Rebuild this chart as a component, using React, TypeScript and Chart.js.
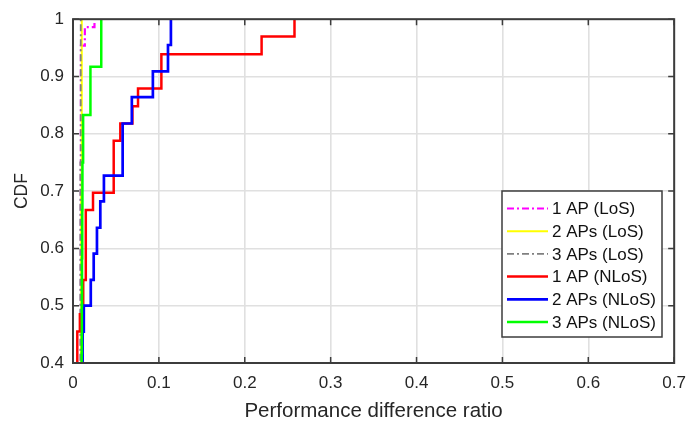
import React, { useEffect, useRef } from 'react';
import { Chart, registerables } from 'chart.js';

Chart.register(...registerables);

// ---------- data ----------
const xTickValues = [0, 0.1, 0.2, 0.3, 0.4, 0.5, 0.6, 0.7];
const xTickLabels = ['0', '0.1', '0.2', '0.3', '0.4', '0.5', '0.6', '0.7'];
const yTickValues = [0.4, 0.5, 0.6, 0.7, 0.8, 0.9, 1];
const yTickLabels = ['0.4', '0.5', '0.6', '0.7', '0.8', '0.9', '1'];

const seriesLabels = ['1 AP (LoS)', '2 APs (LoS)', '3 APs (LoS)', '1 AP (NLoS)', '2 APs (NLoS)', '3 APs (NLoS)'];

// step points (x where the CDF jumps, CDF level after the jump)
const ap1LosX = [0.007, 0.0092, 0.0138, 0.0250];
const ap1LosY = [0.38, 0.954, 0.986, 1.0];

const ap2LosX = [0.0085, 0.0095, 0.0102];
const ap2LosY = [0.38, 0.7, 1.0];

const ap3LosX = [0.007, 0.0085, 0.0090];
const ap3LosY = [0.38, 0.75, 1.0];

const ap1NlosX = [0.003, 0.005, 0.008, 0.0119, 0.0149, 0.0233, 0.0474, 0.0551, 0.0692, 0.0757, 0.1029, 0.2196, 0.2579];
const ap1NlosY = [0.364, 0.455, 0.485, 0.545, 0.667, 0.697, 0.788, 0.818, 0.848, 0.879, 0.939, 0.970, 1.0];

const ap2NlosX = [0.006, 0.0112, 0.0126, 0.0207, 0.0241, 0.0279, 0.0318, 0.036, 0.0578, 0.0685, 0.093, 0.1106, 0.114];
const ap2NlosY = [0.364, 0.4545, 0.5, 0.545, 0.591, 0.636, 0.682, 0.727, 0.818, 0.864, 0.909, 0.955, 1.0];

const ap3NlosX = [0.009, 0.0101, 0.0103, 0.0105, 0.0108, 0.011, 0.0118, 0.0203, 0.0329];
const ap3NlosY = [0.333, 0.417, 0.5, 0.583, 0.667, 0.75, 0.833, 0.917, 1.0];

const seriesColors = ['#ff00ff', '#ffff00', '#808080', '#ff0000', '#0000ff', '#00ff00'];

const FONT = "'Liberation Sans', Arial, Helvetica, sans-serif";

const toPts = (xs: number[], ys: number[]) => xs.map((x, i) => ({ x, y: ys[i] }));

const framePlugin = {
  id: 'frame',
  afterDatasetsDraw(chart: any) {
    const { ctx, chartArea } = chart;
    const { left, right, top, bottom } = chartArea;
    const xs = chart.scales.x;
    const ys = chart.scales.y;
    ctx.save();
    ctx.strokeStyle = '#3c3c3c';
    ctx.lineWidth = 1.5;
    const tl = 6;
    ctx.beginPath();
    xTickValues.forEach((v) => {
      const p = xs.getPixelForValue(v);
      ctx.moveTo(p, bottom);
      ctx.lineTo(p, bottom - tl);
      ctx.moveTo(p, top);
      ctx.lineTo(p, top + tl);
    });
    yTickValues.forEach((v) => {
      const p = ys.getPixelForValue(v);
      ctx.moveTo(left, p);
      ctx.lineTo(left + tl, p);
      ctx.moveTo(right, p);
      ctx.lineTo(right - tl, p);
    });
    ctx.stroke();
    ctx.lineWidth = 2;
    ctx.strokeRect(left, top, right - left, bottom - top);
    ctx.restore();
  },
};

const legendPlugin = {
  id: 'boxLegend',
  afterDraw(chart: any) {
    const { ctx } = chart;
    const bx = 502, by = 191, bw = 160, bh = 146;
    ctx.save();
    ctx.fillStyle = '#ffffff';
    ctx.fillRect(bx, by, bw, bh);
    ctx.strokeStyle = '#3c3c3c';
    ctx.lineWidth = 1.5;
    ctx.strokeRect(bx, by, bw, bh);
    ctx.font = `17px ${FONT}`;
    ctx.textAlign = 'left';
    ctx.textBaseline = 'middle';
    chart.data.datasets.forEach((ds: any, i: number) => {
      const cy = by + 17.5 + i * 22.7;
      ctx.beginPath();
      ctx.strokeStyle = ds.borderColor;
      ctx.lineWidth = ds.borderWidth;
      ctx.setLineDash(ds.borderDash || []);
      ctx.moveTo(507, cy);
      ctx.lineTo(548, cy);
      ctx.stroke();
      ctx.setLineDash([]);
      ctx.fillStyle = '#111111';
      ctx.fillText(ds.label, 552, cy + 1);
    });
    ctx.restore();
  },
};

export default function App() {
  const ref = useRef<HTMLCanvasElement | null>(null);

  useEffect(() => {
    document.body.style.margin = '0';
    const canvas = ref.current;
    if (!canvas) return;
    const seriesX = [ap1LosX, ap2LosX, ap3LosX, ap1NlosX, ap2NlosX, ap3NlosX];
    const seriesY = [ap1LosY, ap2LosY, ap3LosY, ap1NlosY, ap2NlosY, ap3NlosY];
    const dashes: (number[] | undefined)[] = [[7, 3, 2, 3], undefined, [7, 3, 2, 3], undefined, undefined, undefined];
    const widths = [2.2, 2, 1.8, 2.5, 2.7, 2.5];
    const datasets = seriesLabels.map((label, i) => ({
      label,
      data: toPts(seriesX[i], seriesY[i]),
      borderColor: seriesColors[i],
      backgroundColor: seriesColors[i],
      borderWidth: widths[i],
      borderDash: dashes[i],
      stepped: 'before' as const,
      pointRadius: 0,
      fill: false,
      order: seriesLabels.length - i,
    }));

    const chart = new Chart(canvas, {
      type: 'line',
      data: { datasets },
      options: {
        animation: false,
        responsive: false,
        layout: { padding: { top: 15, right: 13, left: 0, bottom: 0 } },
        plugins: { legend: { display: false }, tooltip: { enabled: false } },
        scales: {
          x: {
            type: 'linear',
            min: 0,
            max: 0.7,
            afterBuildTicks: (s: any) => { s.ticks = xTickValues.map((v) => ({ value: v })); },
            afterFit: (s: any) => { s.height = 60; },
            ticks: {
              autoSkip: false,
              maxRotation: 0,
              padding: 10,
              color: '#262626',
              font: { family: FONT, size: 17 },
              callback: (_v: any, i: number) => xTickLabels[i],
            },
            grid: { color: '#e0e0e0', lineWidth: 1.6, drawTicks: false },
            border: { display: false },
            title: {
              display: true,
              text: 'Performance difference ratio',
              color: '#262626',
              font: { family: FONT, size: 20.5, lineHeight: 1 },
              padding: { top: 0, bottom: 1 },
            },
          },
          y: {
            type: 'linear',
            min: 0.4,
            max: 1,
            afterBuildTicks: (s: any) => { s.ticks = yTickValues.map((v) => ({ value: v })); },
            afterFit: (s: any) => { s.width = 73; },
            ticks: {
              autoSkip: false,
              padding: 9,
              color: '#262626',
              font: { family: FONT, size: 17 },
              callback: (_v: any, i: number) => yTickLabels[i],
            },
            grid: { color: '#e0e0e0', lineWidth: 1.6, drawTicks: false },
            border: { display: false },
            title: {
              display: true,
              text: 'CDF',
              color: '#262626',
              font: { family: FONT, size: 17.5, lineHeight: 1 },
              padding: { top: 13, bottom: 0 },
            },
          },
        },
      },
      plugins: [framePlugin, legendPlugin],
    });
    return () => chart.destroy();
  }, []);

  return (
    <div style={{ position: 'fixed', left: 0, top: 0, width: 696, height: 423, background: '#fff' }}>
      <canvas ref={ref} width={696} height={423} />
    </div>
  );
}
